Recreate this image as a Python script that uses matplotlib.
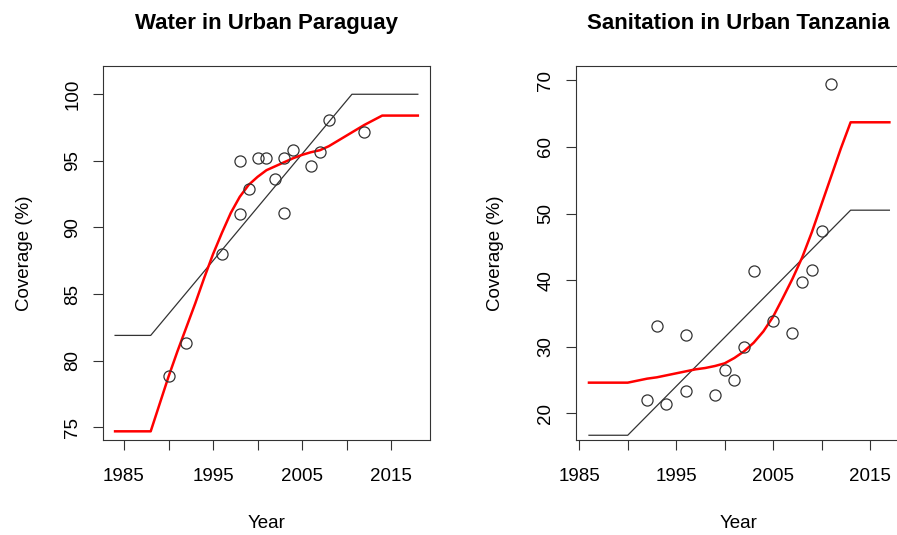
import matplotlib
matplotlib.use('Agg')
import matplotlib.pyplot as plt

plt.rcParams['font.family'] = ['Liberation Sans', 'DejaVu Sans']

# Water in urban Paraguay: survey points, linear trend and fitted curve
py_obs_year = [1990, 1992, 1996, 1998, 1998, 1999, 2000, 2001, 2002, 2003, 2003,
               2004, 2006, 2007, 2008, 2012]
py_obs_cov = [78.85, 81.3, 88.0, 91.0, 95.0, 92.9, 95.25, 95.2, 93.65, 95.2, 91.1,
              95.85, 94.65, 95.65, 98.05, 97.15]
py_lin_year = [1984, 1988, 2010.6, 2018]
py_lin_cov = [81.9, 81.9, 100.0, 100.0]
py_fit_year = [1984, 1988, 1989, 1990, 1991, 1992, 1993, 1994, 1995, 1996, 1997,
               1998, 1999, 2000, 2001, 2002, 2003, 2004, 2005, 2006, 2007, 2008,
               2009, 2010, 2011, 2012, 2013, 2014, 2018]
py_fit_cov = [74.7, 74.7, 76.75, 78.8, 80.7, 82.5, 84.3, 86.2, 88.0, 89.6, 91.1,
              92.3, 93.2, 93.8, 94.3, 94.6, 94.9, 95.2, 95.45, 95.65, 95.8, 96.1,
              96.5, 96.9, 97.3, 97.7, 98.05, 98.4, 98.4]

# Sanitation in urban Tanzania
tz_obs_year = [1992, 1993, 1994, 1996, 1996, 1999, 2000, 2001, 2002, 2003, 2005,
               2007, 2008, 2009, 2010, 2011]
tz_obs_cov = [22.0, 33.1, 21.4, 23.35, 31.8, 22.75, 26.5, 25.0, 30.0, 41.4, 33.85,
              32.05, 39.65, 41.5, 47.3, 69.4]
tz_lin_year = [1986, 1990, 2013, 2017]
tz_lin_cov = [16.7, 16.7, 50.5, 50.5]
tz_fit_year = [1986, 1990, 1991, 1992, 1993, 1994, 1995, 1996, 1997, 1998, 1999,
               2000, 2001, 2002, 2003, 2004, 2005, 2006, 2007, 2008, 2009, 2010,
               2011, 2012, 2013, 2017]
tz_fit_cov = [24.6, 24.6, 24.9, 25.2, 25.4, 25.7, 26.0, 26.3, 26.6, 26.8, 27.1,
              27.5, 28.3, 29.3, 30.6, 32.3, 34.5, 37.3, 40.2, 43.4, 47.2, 51.4,
              55.6, 59.8, 63.7, 63.7]

year_ticks = [1985, 1990, 1995, 2000, 2005, 2010, 2015]
year_labels = ['1985', '', '1995', '', '2005', '', '2015']

FS = 13.5
GREY = '#333333'


def panel(ax, title, obs_x, obs_y, lin_x, lin_y, fit_x, fit_y, yticks, xlim, ylim):
    ax.plot(lin_x, lin_y, color=GREY, lw=0.9)
    ax.plot(fit_x, fit_y, color='#ff0000', lw=1.8)
    ax.plot(obs_x, obs_y, 'o', ms=8, mfc='none', mec=GREY, mew=0.9)
    ax.set_xlim(xlim)
    ax.set_ylim(ylim)
    ax.set_xticks(year_ticks)
    ax.set_xticklabels(year_labels)
    ax.set_yticks(yticks)
    ax.set_yticklabels([str(v) for v in yticks])
    ax.tick_params(direction='out', length=7.5, width=0.8, color=GREY,
                   labelsize=FS, pad=13)
    ax.tick_params(axis='y', labelrotation=90, pad=8)
    plt.setp(ax.get_yticklabels(), va='center')
    for s in ax.spines.values():
        s.set_color(GREY)
        s.set_linewidth(0.8)
    ax.set_title(title, fontsize=16, fontweight='bold', pad=27)
    ax.set_xlabel('Year', fontsize=FS)
    ax.xaxis.set_label_coords(0.5, -0.2)
    ax.set_ylabel('Coverage (%)', fontsize=FS)


fig = plt.figure(figsize=(8.97, 5.35), dpi=100)
ax1 = fig.add_axes([0.1148, 0.1776, 0.3645, 0.699])
ax2 = fig.add_axes([0.6418, 0.1776, 0.3631, 0.699])

panel(ax1, 'Water in Urban Paraguay', py_obs_year, py_obs_cov, py_lin_year,
      py_lin_cov, py_fit_year, py_fit_cov, [75, 80, 85, 90, 95, 100],
      (1982.64, 2019.36), (74.05, 102.12))
panel(ax2, 'Sanitation in Urban Tanzania', tz_obs_year, tz_obs_cov, tz_lin_year,
      tz_lin_cov, tz_fit_year, tz_fit_cov, [20, 30, 40, 50, 60, 70],
      (1984.63, 2018.24), (15.99, 72.15))
ax1.yaxis.set_label_coords(-0.215, 0.5)
ax2.yaxis.set_label_coords(-0.22, 0.5)

fig.savefig('out.png', dpi=100)
